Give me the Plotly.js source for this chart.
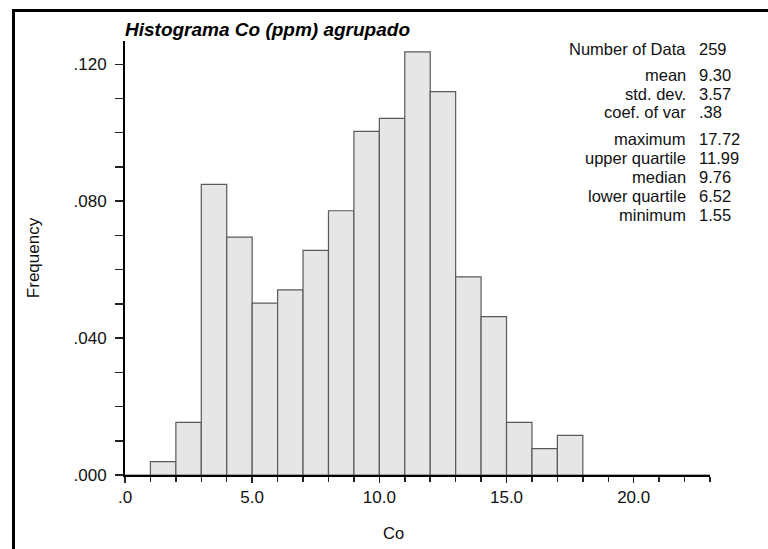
<!DOCTYPE html>
<html>
<head>
<meta charset="utf-8">
<script src="https://cdn.plot.ly/plotly-3.0.1.min.js"></script>
<style>
  html, body { margin: 0; padding: 0; background: #fff; }
  #chart { width: 768px; height: 549px; }
</style>
</head>
<body>
<div id="chart"></div>
<script>
// Histogram bins (lower edges, width 1) and class frequencies
const binStart = [0, 1, 2, 3, 4, 5, 6, 7, 8, 9, 10, 11, 12, 13, 14, 15, 16, 17, 18, 19, 20, 21, 22];
const frequency = [0.0000, 0.0039, 0.0154, 0.0849, 0.0695, 0.0502, 0.0541, 0.0656, 0.0772, 0.1004,
                   0.1042, 0.1236, 0.1120, 0.0579, 0.0463, 0.0154, 0.0077, 0.0116, 0.0000, 0.0000,
                   0.0000, 0.0000, 0.0000];
const binWidth = 1;

// Axis ticks
const xTickVals = [0, 5, 10, 15, 20];
const xTickText = ['.0', '5.0', '10.0', '15.0', '20.0'];
const yTickVals = [0, 0.04, 0.08, 0.12];
const yTickText = ['.000', '.040', '.080', '.120'];

// Summary statistics block
const statLabels1 = ['Number of Data'];
const statValues1 = ['259'];
const statLabels2 = ['mean', 'std. dev.', 'coef. of var'];
const statValues2 = ['9.30', '3.57', '.38'];
const statLabels3 = ['maximum', 'upper quartile', 'median', 'lower quartile', 'minimum'];
const statValues3 = ['17.72', '11.99', '9.76', '6.52', '1.55'];

const chartTitle = 'Histograma Co (ppm) agrupado';
const xTitle = 'Co';
const yTitle = 'Frequency';

// ---- layout geometry (pixels) ----
const W = 768, H = 549;
const M = { l: 125, r: 58, t: 41, b: 74 };
const plotW = W - M.l - M.r, plotH = H - M.t - M.b;
const px2x = px => (px - M.l) / plotW;
const py2y = py => (H - M.b - py) / plotH;

const FONT = 'Liberation Sans, Arial, Helvetica, sans-serif';

const trace = {
  type: 'bar',
  x: binStart,
  y: frequency,
  width: binStart.map(() => binWidth),
  offset: 0,
  marker: { color: '#e6e6e6', line: { color: '#5a5a5a', width: 1.2 } },
  hoverinfo: 'x+y',
  showlegend: false
};

const annotations = [];
function addStats(labels, values, yStart, step) {
  labels.forEach((lab, i) => {
    const yy = py2y(yStart + i * step);
    annotations.push({ xref: 'paper', yref: 'paper', x: px2x(688), y: yy, xanchor: 'right', yanchor: 'middle',
      text: lab, showarrow: false, font: { family: FONT, size: 16.5, color: '#111' } });
    annotations.push({ xref: 'paper', yref: 'paper', x: px2x(697), y: yy, xanchor: 'left', yanchor: 'middle',
      text: values[i], showarrow: false, font: { family: FONT, size: 16.5, color: '#111' } });
  });
}
addStats(statLabels1, statValues1, 49, 19);
addStats(statLabels2, statValues2, 75, 18.5);
addStats(statLabels3, statValues3, 139, 19);

annotations.push({ xref: 'paper', yref: 'paper', x: px2x(393), y: py2y(533), xanchor: 'center', yanchor: 'middle',
  text: xTitle, showarrow: false, font: { family: FONT, size: 16.5, color: '#111' } });

const layout = {
  width: W, height: H,
  margin: M,
  paper_bgcolor: '#fff', plot_bgcolor: '#fff',
  font: { family: FONT, size: 17, color: '#111' },
  title: {
    text: chartTitle,
    x: 0, xref: 'paper', xanchor: 'left',
    y: 1 - 29 / H, yref: 'container', yanchor: 'middle',
    font: { family: FONT, size: 19, weight: 'bold', style: 'italic', color: '#000' }
  },
  bargap: 0,
  xaxis: {
    range: [0, 23], fixedrange: true,
    showgrid: false, zeroline: false,
    showline: true, linecolor: '#000', linewidth: 2,
    tickmode: 'array', tickvals: xTickVals, ticktext: xTickText,
    ticks: 'outside', ticklen: 6, tickwidth: 1.5, tickcolor: '#222',
    minor: { tickmode: 'linear', tick0: 0, dtick: 1, ticks: 'outside', ticklen: 5, tickwidth: 1.5, tickcolor: '#222', showgrid: false },
    tickfont: { family: FONT, size: 17, color: '#111' }
  },
  yaxis: {
    range: [0, 0.1268], fixedrange: true,
    showgrid: false, zeroline: false,
    showline: true, linecolor: '#000', linewidth: 2,
    tickmode: 'array', tickvals: yTickVals, ticktext: yTickText,
    ticks: 'outside', ticklen: 8, tickwidth: 1.5, tickcolor: '#222',
    ticklabelstandoff: 5,
    minor: { tickmode: 'linear', tick0: 0, dtick: 0.01, ticks: 'outside', ticklen: 8, tickwidth: 1.5, tickcolor: '#222', showgrid: false },
    tickfont: { family: FONT, size: 17, color: '#111' },
    title: { text: yTitle, standoff: 30, font: { family: FONT, size: 17, color: '#111' } },
    automargin: false
  },
  shapes: [{
    type: 'rect', xref: 'paper', yref: 'paper', layer: 'above',
    x0: px2x(13.5), x1: 1.3, y0: -0.4, y1: py2y(10.5),
    line: { color: '#000', width: 3 }, fillcolor: 'rgba(0,0,0,0)'
  }],
  annotations: annotations,
  showlegend: false
};

Plotly.newPlot('chart', [trace], layout, { staticPlot: true, displayModeBar: false });
</script>
</body>
</html>
